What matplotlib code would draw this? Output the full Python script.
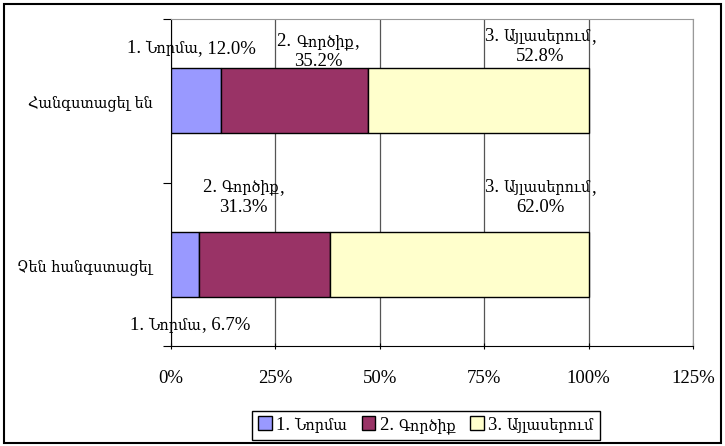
import matplotlib.pyplot as plt
from matplotlib.patches import Rectangle
from matplotlib.font_manager import FontProperties
from matplotlib.offsetbox import TextArea, HPacker, VPacker, AnnotationBbox, DrawingArea, AnchoredOffsetbox

# data
categories = ["Հանգստացել են", "Չեն հանգստացել"]
series_names = ["1. Նորմա", "2. Գործիք", "3. Այլասերում"]
norma = [12.0, 6.7]
gortsiq = [35.2, 31.3]
aylaserum = [52.8, 62.0]
colors = ["#9999FF", "#993366", "#FFFFCC"]
xticks = [0, 25, 50, 75, 100, 125]

# Times-like font for latin/digits, a serif with Armenian glyphs for the rest
LAT = FontProperties(family="Liberation Serif", size=13.5)
ARM = FontProperties(family="DejaVu Serif", size=11.5, stretch="condensed")


def is_arm(ch):
    return 0x0530 <= ord(ch) <= 0x058F


def runs(s):
    out = []
    for ch in s:
        a = is_arm(ch) if not ch.isspace() else (out[-1][1] if out else False)
        if out and out[-1][1] == a:
            out[-1][0] += ch
        else:
            out.append([ch, a])
    return out


def mixed_line(s, lat=LAT, arm=ARM):
    kids = [TextArea(t, textprops=dict(fontproperties=arm if a else lat))
            for t, a in runs(s)]
    return HPacker(children=kids, align="baseline", pad=0, sep=0)


def mixed_label(ax, s, x, y):
    lines = [mixed_line(l) for l in s.split("\n")]
    box = VPacker(children=lines, align="center", pad=0, sep=2)
    ab = AnnotationBbox(box, (x, y), xycoords="data", frameon=False,
                        box_alignment=(0.5, 0.5), zorder=5)
    ax.add_artist(ab)


fig = plt.figure(figsize=(7.25, 4.46), dpi=100)
fig.patches.append(Rectangle((0.006, 0.007), 0.988, 0.985, transform=fig.transFigure,
                             fill=False, edgecolor="black", linewidth=1.5))
ax = fig.add_axes([0.2359, 0.2242, 0.72, 0.7332])

y = [1, 0]
series = [norma, gortsiq, aylaserum]
left = [0, 0]
for name, vals, c in zip(series_names, series, colors):
    ax.barh(y, vals, left=left, height=0.4, color=c, edgecolor="black",
            linewidth=1, label=name, zorder=3)
    left = [l + v for l, v in zip(left, vals)]

ax.set_xlim(0, 125)
ax.set_ylim(-0.5, 1.5)
ax.set_xticks(xticks)
ax.set_xticklabels([f"{t}%" for t in xticks], fontproperties=LAT)
ax.set_yticks([-0.5, 0.5, 1.5])
ax.set_yticklabels([])
ax.set_yticks(y, minor=True)
ax.set_yticklabels(categories, minor=True, fontproperties=ARM)
ax.tick_params(axis="y", which="minor", length=0, pad=13.5)
ax.tick_params(axis="y", which="major", length=6, direction="out", color="black")
ax.tick_params(axis="x", length=4, direction="inout", pad=15)
ax.grid(axis="x", color="#555555", linewidth=0.9, zorder=0)

for s in ["top", "right"]:
    ax.spines[s].set_color("#999999")
for s in ["left", "bottom"]:
    ax.spines[s].set_color("black")

# data labels (dragged positions as in the original)
mixed_label(ax, f"{series_names[0]}, {norma[0]:.1f}%", 4.9, 1.32)
mixed_label(ax, f"{series_names[1]},\n{gortsiq[0]:.1f}%", 35.2, 1.30)
mixed_label(ax, f"{series_names[2]},\n{aylaserum[0]:.1f}%", 88.4, 1.33)
mixed_label(ax, f"{series_names[1]},\n{gortsiq[1]:.1f}%", 17.3, 0.41)
mixed_label(ax, f"{series_names[2]},\n{aylaserum[1]:.1f}%", 88.4, 0.41)
mixed_label(ax, f"{series_names[0]}, {norma[1]:.1f}%", 4.5, -0.372)

# legend
items = []
for name, c in zip(series_names, colors):
    da = DrawingArea(10, 10, 0, 0)
    da.add_artist(Rectangle((0, 0), 10, 10, facecolor=c, edgecolor="black", linewidth=1))
    items.append(HPacker(children=[da, mixed_line(name)], align="baseline", pad=0, sep=3))
leg = AnchoredOffsetbox(loc="center", child=HPacker(children=items, align="baseline", pad=0, sep=10),
                        bbox_to_anchor=(0.5876, 0.047), bbox_transform=fig.transFigure,
                        frameon=True, pad=0.4, borderpad=0)
leg.patch.set_edgecolor("black")
leg.patch.set_linewidth(1)
leg.patch.set_boxstyle("square", pad=0)
fig.add_artist(leg)

fig.savefig("out.png", dpi=100)
